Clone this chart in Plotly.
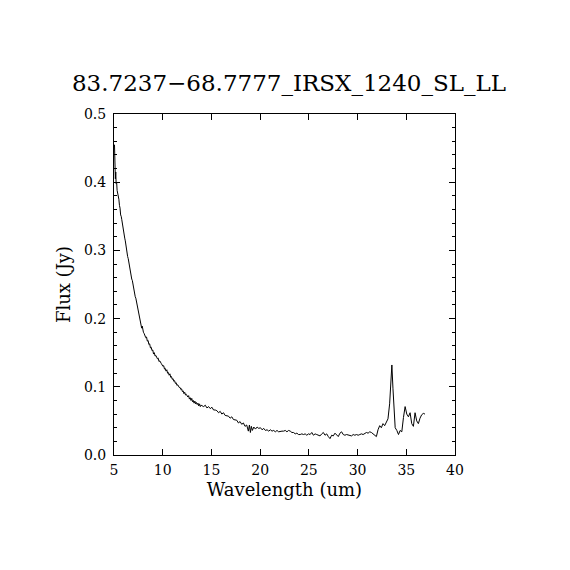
import plotly.graph_objects as go

# spectrum (wavelength in um, flux in Jy)
wavelength = [
    5.05, 5.08, 5.11, 5.14, 5.18, 5.22, 5.27, 5.32, 5.38, 5.44, 5.50, 5.56, 5.62, 5.68, 5.74,
    5.80, 5.86, 5.92, 5.98, 6.04, 6.10, 6.16, 6.22, 6.28, 6.34, 6.40, 6.46, 6.52, 6.58, 6.64,
    6.70, 6.76, 6.82, 6.88, 6.94, 7.00, 7.06, 7.12, 7.18, 7.24, 7.30, 7.36, 7.42, 7.48, 7.54,
    7.60, 7.66, 7.72, 7.78, 7.84, 7.90, 7.96, 8.02, 8.10, 8.18, 8.26, 8.34, 8.42, 8.50, 8.58,
    8.66, 8.74, 8.82, 8.90, 8.98, 9.06, 9.14, 9.22, 9.30, 9.38, 9.46, 9.54, 9.62, 9.70, 9.78,
    9.86, 9.94, 10.02, 10.10, 10.18, 10.26, 10.34, 10.42, 10.50, 10.58, 10.66, 10.74, 10.82, 10.90, 10.98,
    11.06, 11.14, 11.22, 11.30, 11.38, 11.46, 11.54, 11.62, 11.70, 11.78, 11.86, 11.94, 12.02, 12.10, 12.18,
    12.26, 12.34, 12.42, 12.50, 12.58, 12.66, 12.74, 12.82, 12.90, 12.98, 13.06, 13.14, 13.22, 13.30, 13.38,
    13.46, 13.54, 13.62, 13.70, 13.78, 13.86, 13.94, 14.02, 14.20, 14.37, 14.54, 14.71, 14.88, 15.05, 15.22,
    15.39, 15.56, 15.73, 15.90, 16.07, 16.24, 16.41, 16.58, 16.75, 16.92, 17.09, 17.26, 17.43, 17.60, 17.77,
    17.94, 18.11, 18.28, 18.45, 18.62, 18.79, 18.90, 19.00, 19.10, 19.20, 19.35, 19.52, 19.69, 19.86, 20.03,
    20.20, 20.37, 20.54, 20.71, 20.88, 21.05, 21.22, 21.39, 21.56, 21.73, 21.90, 22.07, 22.24, 22.41, 22.58,
    22.75, 22.92, 23.09, 23.26, 23.43, 23.60, 23.77, 23.94, 24.11, 24.28, 24.45, 24.62, 24.79, 24.96, 25.13,
    25.30, 25.47, 25.64, 25.81, 25.98, 26.15, 26.32, 26.49, 26.66, 26.83, 27.00, 27.17, 27.34, 27.51, 27.68,
    27.85, 28.02, 28.19, 28.36, 28.53, 28.70, 28.87, 29.04, 29.21, 29.38, 29.55, 29.72, 29.89, 30.06, 30.23,
    30.40, 30.57, 30.74, 30.91, 31.08, 31.25, 31.42, 31.59, 31.76, 31.93, 32.10, 32.27, 32.44, 32.61, 32.78,
    32.95, 33.12, 33.29, 33.40, 33.52, 33.63, 33.74, 33.86, 34.03, 34.20, 34.37, 34.54, 34.71, 34.88, 35.05,
    35.22, 35.39, 35.56, 35.73, 35.90, 36.07, 36.24, 36.41, 36.58, 36.75, 36.92,
]
flux = [
    0.455, 0.410, 0.440, 0.405, 0.415, 0.398, 0.400, 0.388, 0.385, 0.378, 0.375, 0.366, 0.362, 0.352, 0.350,
    0.345, 0.338, 0.333, 0.330, 0.322, 0.318, 0.314, 0.306, 0.303, 0.296, 0.291, 0.288, 0.282, 0.279, 0.273,
    0.268, 0.265, 0.258, 0.256, 0.250, 0.246, 0.241, 0.238, 0.232, 0.230, 0.225, 0.221, 0.218, 0.212, 0.210,
    0.203, 0.197, 0.192, 0.190, 0.186, 0.189, 0.183, 0.180, 0.178, 0.176, 0.172, 0.173, 0.167, 0.168, 0.162,
    0.163, 0.157, 0.158, 0.153, 0.154, 0.148, 0.150, 0.145, 0.146, 0.142, 0.141, 0.142, 0.137, 0.138, 0.134,
    0.134, 0.132, 0.130, 0.131, 0.126, 0.127, 0.123, 0.125, 0.120, 0.121, 0.117, 0.119, 0.114, 0.115, 0.111,
    0.112, 0.108, 0.109, 0.105, 0.106, 0.102, 0.103, 0.100, 0.099, 0.099, 0.096, 0.097, 0.093, 0.094, 0.090,
    0.092, 0.088, 0.089, 0.087, 0.085, 0.087, 0.082, 0.084, 0.080, 0.083, 0.078, 0.080, 0.076, 0.079, 0.075,
    0.077, 0.074, 0.076, 0.072, 0.075, 0.071, 0.073, 0.072, 0.071, 0.073, 0.069, 0.071, 0.068, 0.070, 0.066,
    0.066, 0.065, 0.062, 0.064, 0.060, 0.062, 0.058, 0.058, 0.057, 0.054, 0.056, 0.052, 0.052, 0.051, 0.047,
    0.049, 0.045, 0.047, 0.042, 0.044, 0.035, 0.044, 0.033, 0.042, 0.036, 0.041, 0.038, 0.041, 0.039, 0.040,
    0.037, 0.039, 0.036, 0.037, 0.035, 0.037, 0.035, 0.036, 0.034, 0.036, 0.034, 0.035, 0.035, 0.035, 0.036,
    0.034, 0.036, 0.035, 0.033, 0.033, 0.031, 0.032, 0.030, 0.030, 0.031, 0.030, 0.031, 0.029, 0.031, 0.030,
    0.033, 0.029, 0.031, 0.030, 0.029, 0.028, 0.031, 0.033, 0.029, 0.031, 0.027, 0.024, 0.029, 0.028, 0.032,
    0.030, 0.027, 0.032, 0.034, 0.030, 0.029, 0.030, 0.029, 0.029, 0.028, 0.030, 0.029, 0.030, 0.029, 0.030,
    0.031, 0.030, 0.032, 0.033, 0.032, 0.034, 0.033, 0.031, 0.029, 0.027, 0.037, 0.043, 0.040, 0.046, 0.043,
    0.047, 0.053, 0.075, 0.105, 0.132, 0.098, 0.068, 0.040, 0.036, 0.030, 0.036, 0.034, 0.055, 0.071, 0.060,
    0.056, 0.062, 0.046, 0.042, 0.062, 0.050, 0.046, 0.054, 0.059, 0.061, 0.060,
]

title = "83.7237\u221268.7777_IRSX_1240_SL_LL"
x_ticks = [5, 10, 15, 20, 25, 30, 35, 40]
y_ticks = [0.0, 0.1, 0.2, 0.3, 0.4, 0.5]

font_name = "DejaVu Serif"

fig = go.Figure()
fig.add_trace(go.Scatter(
    x=wavelength, y=flux, mode="lines",
    line=dict(color="black", width=1),
    showlegend=False,
))

axis_style = dict(
    showline=True, linecolor="black", linewidth=1, mirror="allticks",
    ticks="inside", tickcolor="black", ticklen=6, tickwidth=1,
    showgrid=False, zeroline=False,
    tickfont=dict(family=font_name, size=14, color="black"),
)

fig.update_xaxes(
    range=[5, 40], tickvals=x_ticks, ticktext=[str(v) for v in x_ticks],
    ticklabelstandoff=2,
    title=dict(text="Wavelength (um)", font=dict(family=font_name, size=18, color="black"), standoff=6),
    **axis_style,
)
fig.update_yaxes(
    range=[0, 0.5], tickvals=y_ticks, ticktext=["%.1f" % v for v in y_ticks],
    ticklabelstandoff=4,
    minor=dict(dtick=0.02, ticks="inside", ticklen=3, tickcolor="black"),
    title=dict(text="Flux (Jy)", font=dict(family=font_name, size=18, color="black"), standoff=8),
    **axis_style,
)

# the page body adds an 8px offset, so the figure is shrunk to fit the window
fig.update_layout(
    width=562, height=562,
    margin=dict(l=106, r=115, t=106, b=115),
    paper_bgcolor="white", plot_bgcolor="white",
    title=dict(text=title, x=0.5, xanchor="center", y=1 - 75 / 562, yanchor="middle",
               font=dict(family=font_name, size=23, color="black")),
)

fig.write_html("out.html")
